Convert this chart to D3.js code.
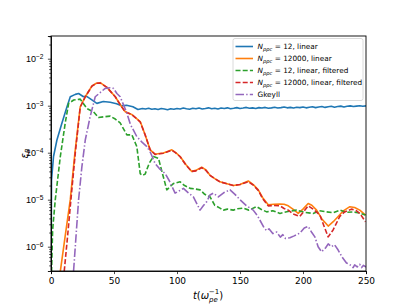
<!DOCTYPE html>
<html>
<head>
<meta charset="utf-8">
<script src="https://cdn.jsdelivr.net/npm/d3@7"></script>
<style>
  body { margin: 0; background: white; }
  svg { font-family: "DejaVu Sans", sans-serif; }
</style>
</head>
<body>
<div class="chart"></div>
<script>
// t in 1/omega_pe, value is epsilon_B
const blue = [[0,1e-7],[0.4,2.6e-5],[2,8.3e-5],[4.7,1.86e-4],[8.7,4.3e-4],[12.7,9.5e-4],[15.3,1.55e-3],[19.3,1.74e-3],[21.9,1.82e-3],[25.8,1.55e-3],[28,1.6e-3],[31,1.41e-3],[36.4,1.12e-3],[41.5,1.23e-3],[47,1.18e-3],[52,1.1e-3],[56,1.0e-3],[60,1.02e-3],[65,9.5e-4],[69,8.3e-4],[72.5,8.7e-4],[75,8.5e-4],[77.5,8.8e-4],[80,8.4e-4],[82.5,8.6e-4],[85,8.3e-4],[87.5,8.7e-4],[90,8.5e-4],[92.5,8.2e-4],[95,8.6e-4],[97.5,8.4e-4],[100,8.7e-4],[102.5,8.5e-4],[105,8.9e-4],[107.5,8.6e-4],[110,8.4e-4],[112.5,8.8e-4],[115,8.6e-4],[117.5,8.9e-4],[120,8.5e-4],[122.5,8.7e-4],[125,9.0e-4],[127.5,8.6e-4],[130,8.8e-4],[132.5,8.5e-4],[135,8.9e-4],[137.5,8.7e-4],[140,9.0e-4],[142.5,8.6e-4],[145,8.8e-4],[147.5,9.1e-4],[150,8.7e-4],[152.5,8.9e-4],[155,9.2e-4],[157.5,8.8e-4],[160,9.0e-4],[162.5,8.7e-4],[165,9.1e-4],[167.5,8.9e-4],[170,9.2e-4],[172.5,8.8e-4],[175,9.0e-4],[177.5,9.3e-4],[180,8.9e-4],[182.5,9.1e-4],[185,9.4e-4],[187.5,9.0e-4],[190,9.2e-4],[192.5,8.9e-4],[195,9.3e-4],[197.5,9.1e-4],[200,9.4e-4],[202.5,9.0e-4],[205,9.3e-4],[207.5,9.5e-4],[210,9.1e-4],[212.5,9.4e-4],[215,9.6e-4],[217.5,9.2e-4],[220,9.5e-4],[222.5,9.7e-4],[225,9.3e-4],[227.5,9.6e-4],[230,9.8e-4],[232.5,9.4e-4],[235,9.7e-4],[237.5,9.9e-4],[240,9.6e-4],[242.5,9.8e-4],[245,1.0e-3],[247.5,9.7e-4],[250,9.9e-4]];

const orange = [[7.4,3e-7],[11,1.5e-6],[15.3,1e-5],[19,1e-4],[23.2,9.5e-4],[27.2,1.55e-3],[32.5,2.63e-3],[36,3.0e-3],[39,3.09e-3],[44.4,2.45e-3],[51,1.55e-3],[55,1.05e-3],[59,7.4e-4],[64,6.5e-4],[67,5.6e-4],[70.8,4.6e-4],[74.7,2.4e-4],[78.7,1.15e-4],[82.6,9.3e-5],[86,9.6e-5],[89.2,9.8e-5],[92,1.05e-4],[95.9,1.15e-4],[99,1.0e-4],[102.5,8.3e-5],[107,5.6e-5],[111.7,4.0e-5],[115,4.2e-5],[119.6,4.9e-5],[123,4.3e-5],[126.2,3.3e-5],[130,2.8e-5],[134.1,2.4e-5],[139,2.2e-5],[144.7,2.0e-5],[150,2.1e-5],[156.6,2.5e-5],[160.5,2.1e-5],[164.5,1.62e-5],[168,1.1e-5],[172.4,7.8e-6],[177,8.0e-6],[181.7,8.1e-6],[185,8.0e-6],[188.3,7.4e-6],[192,6.3e-6],[196.2,5.1e-6],[200,6.3e-6],[204.1,8.3e-6],[207,7.6e-6],[210.8,6.0e-6],[215,3.9e-6],[220,2.75e-6],[224,3.4e-6],[227.9,4.4e-6],[232,5.8e-6],[237.2,7.1e-6],[241,6.8e-6],[245.1,6.0e-6],[249.6,4.7e-6]];

const green = [[0,1e-7],[1.3,2.3e-6],[3.4,1e-5],[7.4,8.3e-5],[11.3,4.3e-4],[14,1.12e-3],[18,1.32e-3],[23.2,1.38e-3],[28.5,8.7e-4],[33.8,7.4e-4],[37.7,5.6e-4],[42,5.8e-4],[47,6.0e-4],[51,5.2e-4],[54.9,4.3e-4],[60.2,2.4e-4],[64.2,2.4e-4],[68.1,1.35e-4],[70.8,3.6e-5],[72.5,3.3e-5],[74.7,3.5e-5],[78,6e-5],[81.3,8.3e-5],[85.3,7.6e-5],[88,4e-5],[91.9,1.62e-5],[97.1,2.2e-5],[102.5,2.4e-5],[106,2.0e-5],[110.4,1.74e-5],[114,1.7e-5],[118.3,1.62e-5],[122,1.3e-5],[126.2,1.15e-5],[130,7.6e-6],[134.1,6.6e-6],[136.8,6.0e-6],[140,6.3e-6],[144.7,6.0e-6],[148,6.4e-6],[152.6,6.6e-6],[157,6.0e-6],[163.2,7.1e-6],[167,6.2e-6],[171.2,5.5e-6],[176,5.8e-6],[181.7,5.1e-6],[188,5.6e-6],[194.9,6.0e-6],[201,5.4e-6],[208.1,5.1e-6],[213,5.8e-6],[218.7,5.5e-6],[224,5.3e-6],[229.2,6.0e-6],[234,5.4e-6],[239.8,5.5e-6],[245,5.2e-6],[249.6,4.7e-6]];

const red = [[10.5,3e-7],[13,1.5e-6],[15.8,1e-5],[19.3,1e-4],[23.2,9.3e-4],[27.2,1.55e-3],[32.5,2.6e-3],[36,3.0e-3],[39,3.05e-3],[44.4,2.45e-3],[51,1.55e-3],[55,1.05e-3],[59,7.3e-4],[64,6.5e-4],[67,5.6e-4],[70.8,4.5e-4],[74.7,2.4e-4],[78.7,1.15e-4],[82.6,9.2e-5],[86,9.5e-5],[89.2,9.7e-5],[92,1.04e-4],[95.9,1.13e-4],[99,9.9e-5],[102.5,8.2e-5],[107,5.5e-5],[111.7,4.0e-5],[115,4.1e-5],[119.6,4.8e-5],[123,4.2e-5],[126.2,3.3e-5],[130,2.8e-5],[134.1,2.4e-5],[139,2.2e-5],[144.7,2.0e-5],[150,2.1e-5],[156.6,2.4e-5],[160.5,2.05e-5],[164.5,1.58e-5],[168,1.05e-5],[172.4,7.4e-6],[177,7.5e-6],[181.7,7.4e-6],[185,6.5e-6],[188.3,6.0e-6],[192,5.0e-6],[197.5,4.4e-6],[201,5.8e-6],[204.1,7.4e-6],[208,6.3e-6],[213.4,4.7e-6],[217,2.6e-6],[220,1.62e-6],[224,2.3e-6],[229.2,4.4e-6],[233,5.5e-6],[238.5,6.3e-6],[242,5.9e-6],[245.1,5.1e-6],[249.6,3.4e-6]];

const purple = [[17.9,3e-7],[21.9,1e-5],[24.5,5e-5],[27.2,1.86e-4],[31.1,5.9e-4],[35.1,1.55e-3],[38,1.8e-3],[43,2.34e-3],[47,2.4e-3],[49.6,2.34e-3],[52.3,1.82e-3],[54.9,1.55e-3],[60.2,7e-4],[63,4e-4],[68.1,2.2e-4],[72,1.7e-4],[76.1,1.35e-4],[79,1.0e-4],[82.6,5.9e-5],[86,4.6e-5],[90.6,3.6e-5],[94,2.5e-5],[98.5,1.38e-5],[101,1.5e-5],[105.1,1.74e-5],[109,1.4e-5],[113,1.15e-5],[116,8e-6],[118.3,6.0e-6],[121,7.5e-6],[123.6,9.1e-6],[126.2,1.26e-5],[128.8,1.38e-5],[132.8,1.15e-5],[137,1.4e-5],[142.1,1.62e-5],[146,1.3e-5],[150,1.0e-5],[155,7.5e-6],[160.5,6.0e-6],[164,4.5e-6],[168.5,2.7e-6],[171,2.2e-6],[173,2.4e-6],[176,1.9e-6],[179.1,2.05e-6],[182,1.6e-6],[184,1.8e-6],[186,1.5e-6],[189.6,1.55e-6],[193,1.7e-6],[197.5,1.95e-6],[201,2.5e-6],[204.1,2.7e-6],[207,2.0e-6],[209.4,1.62e-6],[212,1.0e-6],[214.7,7.8e-7],[218,9.5e-7],[220,1.15e-6],[222.6,1.0e-6],[225,1.1e-6],[227.9,8.5e-7],[231,6e-7],[234.5,4.5e-7],[237,4.2e-7],[239.8,3.6e-7],[241,4.1e-7],[243,3.7e-7],[245,4.2e-7],[246.5,3.6e-7],[248,4.0e-7],[250,3.7e-7]];

const xTicks = [0, 50, 100, 150, 200, 250];
const yExps = [-6, -5, -4, -3, -2];
const labels = ['= 12, linear', '= 12000, linear', '= 12, linear, filtered', '= 12000, linear, filtered', 'Gkeyll'];

const w = 407, h = 305;
const mLeft = 51, mRight = 366, mTop = 36, mBottom = 271;

const svg = d3.select('.chart').append('svg').attr('width', w).attr('height', h);

const x = d3.scaleLinear().domain([0, 250]).range([mLeft, mRight]);
const y = d3.scaleLog().domain([3.04e-7, 3.04e-2]).range([mBottom, mTop]);

svg.append('clipPath').attr('id', 'clip').append('rect')
  .attr('x', mLeft).attr('y', mTop).attr('width', mRight - mLeft).attr('height', mBottom - mTop);

const line = d3.line().x(d => x(d[0])).y(d => y(d[1]));

const series = [
  { data: blue, color: '#1f77b4', dash: null },
  { data: orange, color: '#ff7f0e', dash: null },
  { data: green, color: '#2ca02c', dash: '5,2.2' },
  { data: red, color: '#d62728', dash: '5,2.2' },
  { data: purple, color: '#9467bd', dash: '8.5,2.2,1.4,2.2' }
];

const g = svg.append('g').attr('clip-path', 'url(#clip)');
series.forEach(s => {
  g.append('path').datum(s.data).attr('d', line)
    .attr('fill', 'none').attr('stroke', s.color).attr('stroke-width', 1.6)
    .attr('stroke-linejoin', 'round').attr('stroke-dasharray', s.dash);
});

// axes
const xAxis = svg.append('g').attr('transform', `translate(0,${mBottom})`)
  .call(d3.axisBottom(x).tickValues(xTicks).tickSize(3.1).tickPadding(3.2).tickFormat(d3.format('d')));
xAxis.selectAll('text').attr('font-size', 9).attr('fill', '#000').attr('font-family', 'DejaVu Sans');

const minor = [];
for (let e = -7; e <= -2; e++) for (let k = 2; k <= 9; k++) {
  const v = k * Math.pow(10, e);
  if (v >= 3.04e-7 && v <= 3.04e-2) minor.push(v);
}
svg.append('g').attr('transform', `translate(${mLeft},0)`)
  .call(d3.axisLeft(y).tickValues(minor).tickSize(1.8).tickFormat(''))
  .call(a => a.select('.domain').remove());

const yAxis = svg.append('g').attr('transform', `translate(${mLeft},0)`)
  .call(d3.axisLeft(y).tickValues(yExps.map(e => Math.pow(10, e))).tickSize(3.1).tickPadding(3).tickFormat(''));
yAxis.selectAll('.tick').each(function(d, i) {
  const t = d3.select(this).append('text').attr('x', -7.5).attr('dy', '0.35em')
    .attr('text-anchor', 'end').attr('font-size', 9).attr('fill', '#000');
  t.append('tspan').text('10');
  t.append('tspan').attr('dy', '-0.5em').attr('font-size', 6.6).text('\u2212' + Math.abs(yExps[i]));
});

svg.selectAll('.domain').attr('stroke', '#000').attr('stroke-width', 0.9);
svg.selectAll('.tick line').attr('stroke', '#000').attr('stroke-width', 0.7);

svg.append('rect').attr('x', mLeft).attr('y', mTop).attr('width', mRight - mLeft).attr('height', mBottom - mTop)
  .attr('fill', 'none').attr('stroke', '#000').attr('stroke-width', 0.9);

// axis labels
const xl = svg.append('text').attr('x', 208).attr('y', 299)
  .attr('text-anchor', 'middle').attr('font-size', 10);
xl.append('tspan').attr('font-style', 'italic').text('t');
xl.append('tspan').text('(');
xl.append('tspan').attr('font-style', 'italic').text('ω');
xl.append('tspan').attr('font-style', 'italic').attr('font-size', 7).attr('dy', '2.5').text('pe');
xl.append('tspan').attr('font-size', 7).attr('dx', '-9').attr('dy', '-7.5').text('\u22121');
xl.append('tspan').attr('dy', '5').text(')');

const yl = svg.append('text').attr('transform', `translate(28,${(mTop + mBottom) / 2}) rotate(-90)`)
  .attr('text-anchor', 'middle').attr('font-size', 10);
yl.append('tspan').attr('font-style', 'italic').text('ε');
yl.append('tspan').attr('font-style', 'italic').attr('font-size', 7).attr('dy', '2').text('B');

// legend
const lg = svg.append('g');
lg.append('rect').attr('x', 233).attr('y', 38.5).attr('width', 130).attr('height', 62)
  .attr('rx', 2).attr('fill', 'white').attr('fill-opacity', 0.8).attr('stroke', '#d0d0d0').attr('stroke-width', 0.8);
series.forEach((s, i) => {
  const yy = 46.5 + i * 12;
  lg.append('line').attr('x1', 235.5).attr('x2', 253).attr('y1', yy).attr('y2', yy)
    .attr('stroke', s.color).attr('stroke-width', 1.6).attr('stroke-dasharray', s.dash);
  const t = lg.append('text').attr('x', 257.5).attr('y', yy).attr('dy', '0.35em').attr('font-size', 7.3);
  if (i < 4) {
    t.append('tspan').attr('font-style', 'italic').text('N');
    t.append('tspan').attr('font-style', 'italic').attr('font-size', 5.2).attr('dy', '1.5').text('ppc');
    t.append('tspan').attr('dy', '-1.5').text(' ' + labels[i]);
  } else {
    t.text(labels[i]);
  }
});
</script>
</body>
</html>
